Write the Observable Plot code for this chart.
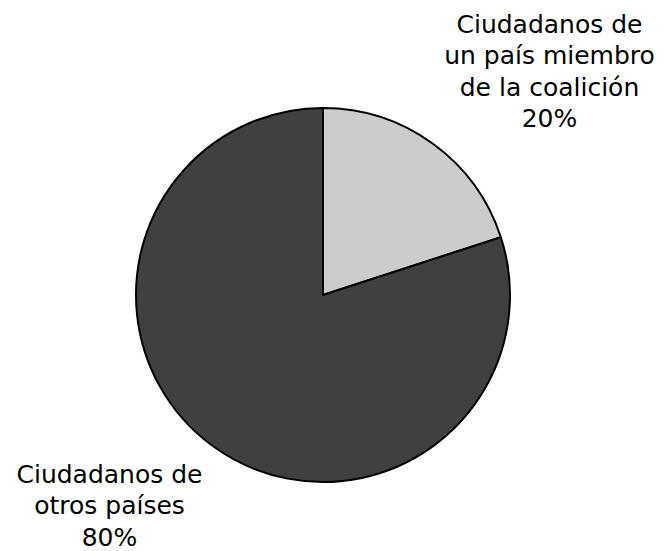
<!DOCTYPE html>
<html><head><meta charset="utf-8">
<script src="https://cdn.jsdelivr.net/npm/d3@7"></script>
<script src="https://cdn.jsdelivr.net/npm/@observablehq/plot@0.6"></script>
<style>body{margin:0;background:#fff}</style>
</head><body><div id="chart"></div>
<script>
const categories = ["Ciudadanos de\nun país miembro\nde la coalición", "Ciudadanos de\notros países"];
const shares = [20, 80];
const sliceColors = ["#cccccc", "#404040"];

const rows = categories.map((c, i) => ({category: c, value: shares[i], label: `${c}\n${shares[i]}%`}));

function pieMark(index, scales) {
  const cx = scales.x(0), cy = scales.y(0);
  const r = scales.x(1) - scales.x(0);
  const arcs = d3.pie().sort(null).value(d => d.value)(rows);
  const arc = d3.arc().innerRadius(0).outerRadius(r);
  const g = d3.create("svg:g").attr("transform", `translate(${cx},${cy})`);
  g.selectAll("path").data(arcs).join("path")
    .attr("d", arc)
    .attr("fill", d => scales.color(d.data.category))
    .attr("stroke", "#000")
    .attr("stroke-width", 2)
    .attr("stroke-linejoin", "round");
  return g.node();
}

const chart = Plot.plot({
  width: 664, height: 551,
  margin: 0,
  style: {fontFamily: "DejaVu Sans", background: "#fff"},
  x: {domain: [-1, 1], range: [136, 510], axis: null},
  y: {domain: [-1, 1], range: [482, 108], axis: null},
  color: {domain: categories, range: sliceColors},
  marks: [
    pieMark,
    Plot.text([rows[0]], {text: "label", frameAnchor: "top-right", dx: -115, dy: 10, lineAnchor: "top", textAnchor: "middle", fontSize: 25, lineHeight: 1.26, fill: "#000"}),
    Plot.text([rows[1]], {text: "label", frameAnchor: "bottom-left", dx: 109, dy: -6, lineAnchor: "bottom", textAnchor: "middle", fontSize: 25, lineHeight: 1.26, fill: "#000"})
  ]
});
document.getElementById("chart").appendChild(chart);
</script></body></html>
